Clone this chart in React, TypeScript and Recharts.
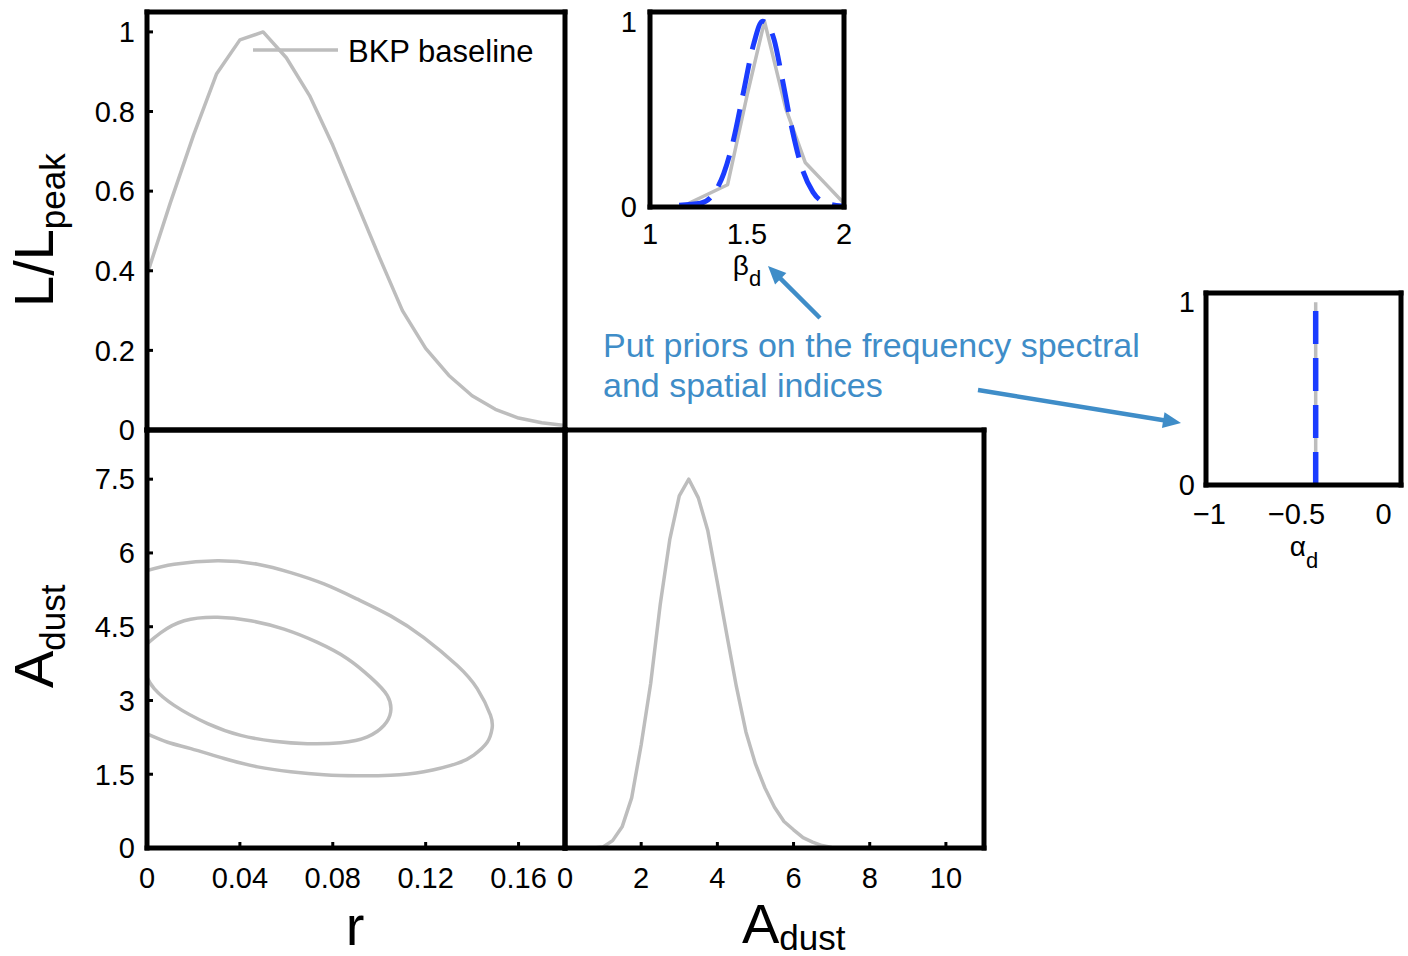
import React from 'react';
import { LineChart, Line, XAxis, YAxis, Legend } from 'recharts';

const W = 1408;
const H = 956;
const FONT = "'Liberation Sans', Arial, Helvetica, sans-serif";
const GRAY = '#bdbdbd';
const BLUE = '#1a3cff';
const NOTE = '#3f8dc8';

// ---- r marginal (top-left) ----
const rValues = [0, 0.01, 0.02, 0.03, 0.04, 0.05, 0.06, 0.07, 0.08, 0.09, 0.1, 0.11, 0.12, 0.13, 0.14, 0.15, 0.16, 0.17, 0.18];
const rLikelihood = [0.39, 0.57, 0.74, 0.895, 0.98, 1.0, 0.935, 0.84, 0.715, 0.575, 0.435, 0.3, 0.205, 0.137, 0.086, 0.052, 0.03, 0.018, 0.011];

// ---- A_dust marginal (bottom-right), drawn on the A_dust scale ----
const aDustValues = [0, 0.25, 0.5, 0.75, 1, 1.25, 1.5, 1.75, 2, 2.25, 2.5, 2.75, 3, 3.25, 3.5, 3.75, 4, 4.25, 4.5, 4.75, 5, 5.25, 5.5, 5.75, 6, 6.25, 6.5, 6.75, 7];
const aDustLikelihood = [0, 0, 0, 0, 0.02, 0.15, 0.43, 1.02, 2.1, 3.35, 4.95, 6.27, 7.16, 7.5, 7.12, 6.45, 5.4, 4.33, 3.28, 2.36, 1.71, 1.22, 0.83, 0.54, 0.37, 0.21, 0.12, 0.05, 0.01];

// ---- r vs A_dust contours (bottom-left) ----
const outerContourR = [0.0, 0.0117, 0.0304, 0.0476, 0.0619, 0.0762, 0.0906, 0.1049, 0.1192, 0.1336, 0.1422, 0.1479, 0.1486, 0.1465, 0.1407, 0.1336, 0.1192, 0.1049, 0.0906, 0.0762, 0.0619, 0.0476, 0.0332, 0.0189, 0.0089, 0.0];
const outerContourA = [5.64, 5.77, 5.84, 5.77, 5.6, 5.37, 5.06, 4.72, 4.28, 3.71, 3.24, 2.7, 2.43, 2.15, 1.89, 1.72, 1.55, 1.48, 1.47, 1.49, 1.55, 1.65, 1.82, 2.02, 2.15, 2.32];
const innerContourR = [0.0, 0.006, 0.016, 0.0304, 0.0447, 0.059, 0.0734, 0.0863, 0.0963, 0.1035, 0.1049, 0.102, 0.0949, 0.0834, 0.0691, 0.0547, 0.0404, 0.0261, 0.0117, 0.0031, 0.0];
const innerContourA = [4.15, 4.38, 4.62, 4.69, 4.62, 4.45, 4.18, 3.85, 3.47, 3.1, 2.76, 2.49, 2.26, 2.14, 2.12, 2.17, 2.29, 2.53, 2.9, 3.24, 3.47];

// ---- beta_d inset ----
const betaBaselineX = [1.2, 1.3, 1.4, 1.5, 1.59, 1.7, 1.8, 1.9, 2.0];
const betaBaselineL = [0.02, 0.07, 0.12, 0.6, 1.0, 0.53, 0.24, 0.13, 0.02];
const betaPriorX = [1.15, 1.26, 1.33, 1.38, 1.43, 1.48, 1.535, 1.58, 1.6, 1.64, 1.68, 1.73, 1.78, 1.84, 1.91, 1.99];
const betaPriorL = [0.01, 0.02, 0.074, 0.18, 0.36, 0.61, 0.88, 1.0, 0.99, 0.9, 0.7, 0.43, 0.22, 0.08, 0.02, 0.005];

// ---- alpha_d inset ----
const alphaX = [-0.39, -0.39];
const alphaL = [0, 1];

// ---- ticks ----
const rTicks = [0, 0.04, 0.08, 0.12, 0.16];
const likeTicks = [0, 0.2, 0.4, 0.6, 0.8, 1];
const aDustTicks = [0, 1.5, 3, 4.5, 6, 7.5];
const aDustXTicks = [0, 2, 4, 6, 8, 10];
const betaTicks = [1, 1.5, 2];
const alphaTicks = [-1, -0.5, 0];
const unitTicks = [0, 1];

const zip = (xs: number[], ys: number[]) => xs.map((x, i) => ({ x, y: ys[i] }));

const rData = zip(rValues, rLikelihood);
const aDustData = zip(aDustValues, aDustLikelihood);
const outerData = zip(outerContourR, outerContourA);
const innerData = zip(innerContourR, innerContourA);
const betaBaseData = zip(betaBaselineX, betaBaselineL);
const betaPriorData = zip(betaPriorX, betaPriorL);
const alphaData = zip(alphaX, alphaL);

type Box = { x0: number; x1: number; y0: number; y1: number };

const BOX_TL: Box = { x0: 147, x1: 565, y0: 12, y1: 430 };
const BOX_BL: Box = { x0: 147, x1: 565, y0: 430, y1: 848 };
const BOX_BR: Box = { x0: 565, x1: 984, y0: 430, y1: 848 };
const BOX_BETA: Box = { x0: 650, x1: 844, y0: 12, y1: 207 };
const BOX_ALPHA: Box = { x0: 1206, x1: 1401, y0: 293, y1: 485 };

const marginFor = (b: Box) => ({ left: b.x0 - 1, right: W - b.x1 - 1, top: b.y0 - 1, bottom: H - b.y1 - 1 });

type FrameOpts = {
  xDomain: [number, number];
  yDomain: [number, number];
  xTicks: number[];
  yTicks: number[];
  xLabels: boolean;
  yLabels: boolean;
  inner: boolean;
  xMargin: number;
  yMargin: number;
  xFmt?: (v: number) => string;
};

function frame(o: FrameOpts) {
  const axisLine = { stroke: '#000', strokeWidth: 5, strokeLinecap: 'square' as const };
  const tickLine = o.inner ? { stroke: '#000', strokeWidth: 3 } : false;
  const ts = o.inner ? -6 : 0;
  const tickStyle = { fontSize: 29, fill: '#000', fontFamily: FONT };
  return [
    <XAxis key="xb" xAxisId="b" orientation="bottom" type="number" dataKey="x" domain={o.xDomain} ticks={o.xTicks} interval={0} height={1} allowDataOverflow axisLine={axisLine} tickLine={tickLine} tickSize={ts} tickMargin={o.xMargin} tick={o.xLabels ? tickStyle : false} tickFormatter={o.xFmt} />,
    <XAxis key="xt" xAxisId="t" orientation="top" type="number" dataKey="x" domain={o.xDomain} ticks={o.xTicks} interval={0} height={1} allowDataOverflow axisLine={axisLine} tickLine={tickLine} tickSize={ts} tick={false} />,
    <YAxis key="yl" yAxisId="l" orientation="left" type="number" domain={o.yDomain} ticks={o.yTicks} interval={0} width={1} allowDataOverflow axisLine={axisLine} tickLine={tickLine} tickSize={ts} tickMargin={o.yMargin} tick={o.yLabels ? tickStyle : false} />,
    <YAxis key="yr" yAxisId="r" orientation="right" type="number" domain={o.yDomain} ticks={o.yTicks} interval={0} width={1} allowDataOverflow axisLine={axisLine} tickLine={tickLine} tickSize={ts} tick={false} />,
  ];
}

const fmtMinus = (v: number) => (v < 0 ? '\u2212' + String(Math.abs(v)) : String(v));

const renderLegend = (props: any) => {
  const items = (props && props.payload) || [];
  return (
    <svg width={320} height={44} style={{ display: 'block', overflow: 'visible' }}>
      {items.map((it: any, i: number) => (
        <g key={i}>
          <line x1={0} y1={20} x2={85} y2={20} stroke={it.color || GRAY} strokeWidth={3.5} />
          <text x={95} y={32} fontSize={31} fontFamily={FONT} fill="#000">{it.value}</text>
        </g>
      ))}
    </svg>
  );
};

function Arrow({ x1, y1, x2, y2 }: { x1: number; y1: number; x2: number; y2: number }) {
  const dx = x2 - x1;
  const dy = y2 - y1;
  const len = Math.hypot(dx, dy);
  const ux = dx / len;
  const uy = dy / len;
  const hl = 18;
  const hw = 8;
  const bx = x2 - ux * hl;
  const by = y2 - uy * hl;
  const pts = `${x2},${y2} ${bx - uy * hw},${by + ux * hw} ${bx + uy * hw},${by - ux * hw}`;
  return (
    <g>
      <line x1={x1} y1={y1} x2={bx + ux * 2} y2={by + uy * 2} stroke={NOTE} strokeWidth={4.5} />
      <polygon points={pts} fill={NOTE} />
    </g>
  );
}

const layer: React.CSSProperties = { position: 'absolute', left: 0, top: 0 };
const lineCommon = { isAnimationActive: false, dot: false, activeDot: false, xAxisId: 'b', yAxisId: 'l', strokeLinejoin: 'round' as const };

export default function App() {
  return (
    <div style={{ position: 'absolute', left: 0, top: 0, width: W, height: H, background: '#fff', overflow: 'hidden', fontFamily: FONT }}>
      {/* bottom-left: contours */}
      <div style={layer}>
        <LineChart width={W} height={H} margin={marginFor(BOX_BL)}>
          {frame({ xDomain: [0, 0.18], yDomain: [0, 8.5], xTicks: rTicks, yTicks: aDustTicks, xLabels: true, yLabels: true, inner: true, xMargin: 25, yMargin: 18 })}
          <Line {...lineCommon} data={outerData} dataKey="y" type="natural" stroke={GRAY} strokeWidth={3.5} />
          <Line {...lineCommon} data={innerData} dataKey="y" type="natural" stroke={GRAY} strokeWidth={3.5} />
        </LineChart>
      </div>
      {/* bottom-right: A_dust marginal */}
      <div style={layer}>
        <LineChart width={W} height={H} margin={marginFor(BOX_BR)}>
          {frame({ xDomain: [0, 11], yDomain: [0, 8.5], xTicks: aDustXTicks, yTicks: aDustTicks, xLabels: true, yLabels: false, inner: true, xMargin: 25, yMargin: 18 })}
          <Line {...lineCommon} data={aDustData} dataKey="y" type="linear" stroke={GRAY} strokeWidth={3.5} />
        </LineChart>
      </div>
      {/* top-left: r marginal */}
      <div style={layer}>
        <LineChart width={W} height={H} margin={marginFor(BOX_TL)}>
          {frame({ xDomain: [0, 0.18], yDomain: [0, 1.05], xTicks: rTicks, yTicks: likeTicks, xLabels: false, yLabels: true, inner: true, xMargin: 25, yMargin: 18 })}
          <Line {...lineCommon} name="BKP baseline" data={rData} dataKey="y" type="linear" stroke={GRAY} strokeWidth={3.5} />
          <Legend layout="horizontal" verticalAlign="middle" align="center" content={renderLegend} wrapperStyle={{ left: 253, top: 30, width: 320, height: 44 }} />
        </LineChart>
      </div>
      {/* beta_d inset */}
      <div style={layer}>
        <LineChart width={W} height={H} margin={marginFor(BOX_BETA)}>
          {frame({ xDomain: [1, 2], yDomain: [0, 1.05], xTicks: betaTicks, yTicks: unitTicks, xLabels: true, yLabels: true, inner: false, xMargin: 16, yMargin: 13 })}
          <Line {...lineCommon} data={betaBaseData} dataKey="y" type="linear" stroke={GRAY} strokeWidth={3.5} />
          <Line {...lineCommon} data={betaPriorData} dataKey="y" type="monotone" stroke={BLUE} strokeWidth={5} strokeDasharray="33 14" />
        </LineChart>
      </div>
      {/* alpha_d inset */}
      <div style={layer}>
        <LineChart width={W} height={H} margin={marginFor(BOX_ALPHA)}>
          {frame({ xDomain: [-1.02, 0.1], yDomain: [0, 1.05], xTicks: alphaTicks, yTicks: unitTicks, xLabels: true, yLabels: true, inner: false, xMargin: 18, yMargin: 11, xFmt: fmtMinus })}
          <Line {...lineCommon} data={alphaData} dataKey="y" type="linear" stroke={GRAY} strokeWidth={3.5} />
          <Line {...lineCommon} data={alphaData} dataKey="y" type="linear" stroke={BLUE} strokeWidth={5.5} strokeDasharray="33 14" />
        </LineChart>
      </div>
      {/* labels and annotation */}
      <svg width={W} height={H} style={{ ...layer, pointerEvents: 'none' }} fontFamily={FONT}>
        <text transform="translate(53,307) rotate(-90)" fontSize={56} fill="#000">
          L/L<tspan fontSize={35} dy={12}>peak</tspan>
        </text>
        <text transform="translate(53,688) rotate(-90)" fontSize={56} fill="#000">
          A<tspan fontSize={35} dy={12}>dust</tspan>
        </text>
        <text x={355} y={945} fontSize={56} textAnchor="middle" fill="#000">r</text>
        <text x={742} y={943} fontSize={56} fill="#000">
          A<tspan fontSize={35} dy={7}>dust</tspan>
        </text>
        <text x={747} y={275} fontSize={28} textAnchor="middle" fill="#000">
          β<tspan fontSize={22} dy={11}>d</tspan>
        </text>
        <text x={1304} y={556} fontSize={28} textAnchor="middle" fill="#000">
          α<tspan fontSize={22} dy={12}>d</tspan>
        </text>
        <text x={603} y={357} fontSize={34} fill={NOTE}>Put priors on the frequency spectral</text>
        <text x={603} y={397} fontSize={34} fill={NOTE}>and spatial indices</text>
        <Arrow x1={820} y1={318} x2={768} y2={266} />
        <Arrow x1={978} y1={390} x2={1181} y2={423} />
      </svg>
    </div>
  );
}
